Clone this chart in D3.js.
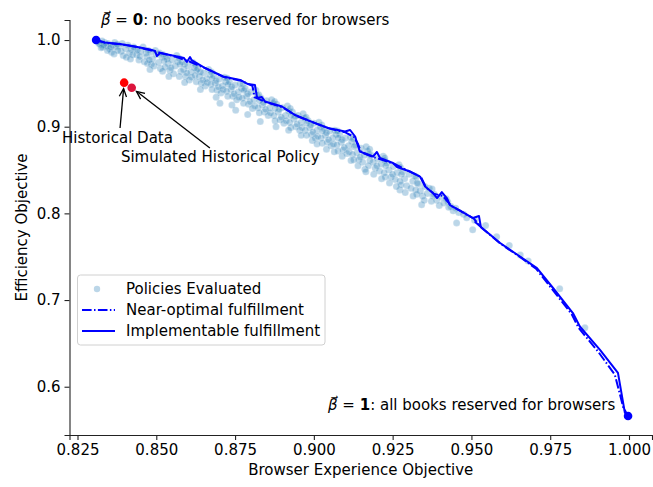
<!DOCTYPE html>
<html lang="en">
<head>
  <meta charset="UTF-8">
  <title>Browser experience vs efficiency</title>
  <script src="https://d3js.org/d3.v7.min.js"></script>
  <style>
    body { margin: 0; background: #fff; }
    svg { display: block; }
    text { font-family: "DejaVu Sans", sans-serif; fill: #000; }
    .domain, .tick line { stroke: #222; stroke-width: 1.1px; }
  </style>
</head>
<body>
  <svg width="653" height="487"></svg>

  <script>
    const width = 653, height = 487;
    const fs = 15; // font size used everywhere

    // policies evaluated (browser experience, efficiency)
    const policies = [
      [0.8315,0.998],[0.8322,0.995],[0.8330,0.992],[0.8336,0.997],[0.8328,0.999],[0.8341,0.993],
      [0.8347,0.996],[0.8352,0.990],[0.8358,0.986],[0.8362,0.994],[0.8345,0.988],[0.8368,0.997],[0.8355,0.992],
      [0.8382,0.993],[0.8388,0.987],[0.8395,0.982],[0.8402,0.990],[0.8410,0.994],[0.8415,0.985],[0.8405,0.980],[0.8392,0.996],
      [0.8432,0.990],[0.8438,0.983],[0.8445,0.977],[0.8450,0.987],[0.8458,0.992],[0.8462,0.975],[0.8448,0.981],[0.8440,0.988],[0.8467,0.985],
      [0.8482,0.986],[0.8488,0.978],[0.8493,0.970],[0.8500,0.983],[0.8507,0.974],[0.8513,0.967],[0.8518,0.980],[0.8497,0.988],[0.8510,0.985],[0.8485,0.972],
      [0.8532,0.981],[0.8538,0.973],[0.8543,0.965],[0.8550,0.977],[0.8555,0.961],[0.8560,0.970],[0.8565,0.982],[0.8547,0.968],[0.8568,0.975],[0.8535,0.978],
      [0.8582,0.975],[0.8587,0.966],[0.8593,0.958],[0.8600,0.970],[0.8605,0.954],[0.8610,0.963],[0.8616,0.974],[0.8597,0.962],[0.8620,0.968],[0.8590,0.972],[0.8612,0.957],
      [0.8632,0.967],[0.8637,0.958],[0.8643,0.950],[0.8650,0.962],[0.8655,0.947],[0.8660,0.955],[0.8666,0.966],[0.8647,0.954],[0.8670,0.960],[0.8640,0.963],[0.8662,0.951],
      [0.8682,0.959],[0.8687,0.950],[0.8693,0.942],[0.8700,0.955],[0.8705,0.939],[0.8710,0.947],[0.8716,0.957],[0.8697,0.946],[0.8720,0.952],[0.8690,0.953],[0.8712,0.943],[0.8702,0.927],
      [0.8732,0.952],[0.8737,0.943],[0.8743,0.935],[0.8750,0.948],[0.8755,0.931],[0.8760,0.940],[0.8766,0.950],[0.8747,0.938],[0.8770,0.944],[0.8740,0.946],[0.8762,0.934],[0.8752,0.919],
      [0.8782,0.944],[0.8787,0.935],[0.8793,0.926],[0.8800,0.940],[0.8805,0.921],[0.8810,0.931],[0.8816,0.942],[0.8797,0.929],[0.8820,0.936],[0.8790,0.938],[0.8812,0.924],
      [0.8832,0.933],[0.8837,0.925],[0.8843,0.917],[0.8850,0.930],[0.8855,0.913],[0.8860,0.922],[0.8866,0.931],[0.8847,0.920],[0.8870,0.927],[0.8840,0.928],[0.8862,0.916],
      [0.8882,0.926],[0.8887,0.917],[0.8893,0.908],[0.8900,0.922],[0.8905,0.904],[0.8910,0.913],[0.8916,0.924],[0.8897,0.911],[0.8920,0.918],[0.8890,0.920],[0.8912,0.907],
      [0.8932,0.917],[0.8937,0.909],[0.8943,0.900],[0.8950,0.913],[0.8955,0.896],[0.8960,0.905],[0.8966,0.915],[0.8947,0.903],[0.8970,0.910],[0.8940,0.912],[0.8962,0.899],
      [0.8982,0.907],[0.8987,0.899],[0.8993,0.891],[0.9000,0.904],[0.9005,0.887],[0.9010,0.896],[0.9016,0.905],[0.8997,0.894],[0.9020,0.900],[0.8990,0.902],[0.9012,0.889],
      [0.9032,0.898],[0.9037,0.890],[0.9043,0.882],[0.9050,0.895],[0.9055,0.878],[0.9060,0.887],[0.9066,0.896],[0.9047,0.885],[0.9070,0.891],[0.9040,0.893],[0.9062,0.880],
      [0.9082,0.891],[0.9087,0.882],[0.9093,0.873],[0.9100,0.887],[0.9105,0.869],[0.9110,0.878],[0.9116,0.888],[0.9097,0.876],[0.9120,0.883],[0.9090,0.885],[0.9112,0.871],
      [0.9132,0.879],[0.9137,0.870],[0.9143,0.862],[0.9150,0.875],[0.9155,0.859],[0.9160,0.867],[0.9166,0.877],[0.9147,0.865],[0.9170,0.872],[0.9162,0.851],
      [0.9182,0.867],[0.9188,0.859],[0.9195,0.852],[0.9202,0.863],[0.9208,0.849],[0.9214,0.857],[0.9220,0.866],[0.9200,0.855],[0.9225,0.861],
      [0.9232,0.858],[0.9238,0.850],[0.9245,0.842],[0.9252,0.854],[0.9258,0.839],[0.9264,0.847],[0.9270,0.856],[0.9273,0.827],[0.9250,0.845],
      [0.9282,0.848],[0.9288,0.840],[0.9295,0.832],[0.9302,0.845],[0.9308,0.829],[0.9314,0.837],[0.9320,0.843],
      [0.9332,0.834],[0.9338,0.826],[0.9345,0.820],[0.9352,0.831],[0.9342,0.810],[0.9360,0.823],[0.9366,0.829],
      [0.9382,0.822],[0.9390,0.815],[0.9398,0.809],[0.9405,0.819],[0.9412,0.812],[0.9420,0.817],
      [0.9435,0.808],[0.9442,0.803],[0.9450,0.806],[0.9453,0.789],[0.9460,0.801],
      [0.9475,0.799],[0.9485,0.795],[0.9504,0.781],[0.9510,0.792],
      [0.9545,0.786],[0.9580,0.773],[0.9620,0.763],[0.9655,0.752],[0.9680,0.745],[0.9780,0.713],[0.9860,0.668],
      [0.8318,0.996],[0.8333,0.994],[0.8325,0.991],
      [0.8372,0.992],[0.8378,0.988],[0.8366,0.984],[0.8376,0.995],
      [0.8420,0.989],[0.8425,0.983],[0.8418,0.978],[0.8428,0.992],
      [0.8470,0.981],[0.8474,0.988],[0.8472,0.973],[0.8478,0.977],
      [0.8522,0.983],[0.8525,0.976],[0.8528,0.969],[0.8520,0.964],
      [0.8572,0.979],[0.8575,0.972],[0.8578,0.964],[0.8573,0.958],
      [0.8625,0.971],[0.8628,0.965],[0.8623,0.959],[0.8627,0.952],
      [0.8675,0.963],[0.8678,0.956],[0.8673,0.949],[0.8677,0.943],
      [0.8725,0.956],[0.8728,0.949],[0.8723,0.941],[0.8727,0.935],
      [0.8775,0.949],[0.8778,0.942],[0.8773,0.933],[0.8777,0.927],
      [0.8825,0.937],[0.8828,0.930],[0.8823,0.922],[0.8827,0.916],
      [0.8875,0.929],[0.8878,0.921],[0.8873,0.913],[0.8877,0.907],
      [0.8925,0.921],[0.8928,0.913],[0.8923,0.905],[0.8927,0.899],
      [0.8975,0.911],[0.8978,0.904],[0.8973,0.896],[0.8977,0.890],
      [0.9025,0.902],[0.9028,0.895],[0.9023,0.887],[0.9027,0.881],
      [0.9075,0.895],[0.9078,0.887],[0.9073,0.879],[0.9077,0.872],
      [0.9125,0.886],[0.9128,0.877],[0.9123,0.868],[0.9127,0.862],
      [0.9175,0.868],[0.9178,0.861],[0.9173,0.855],[0.9177,0.874],
      [0.9225,0.864],[0.9228,0.855],[0.9223,0.847],[0.9227,0.842],
      [0.9275,0.853],[0.9278,0.845],[0.9273,0.837],[0.9277,0.833],
      [0.9325,0.842],[0.9328,0.835],[0.9323,0.827],[0.9327,0.822],
      [0.9375,0.828],[0.9378,0.820],[0.9373,0.814],
      [0.9425,0.813],[0.9428,0.807],
      [0.8480,0.966],[0.8540,0.958],[0.8590,0.951],[0.8640,0.943],[0.8690,0.934],[0.8740,0.925],
      [0.8790,0.914],[0.8830,0.906],[0.8880,0.900],[0.8920,0.896],[0.8960,0.890],[0.8995,0.884],
      [0.9010,0.880],[0.9040,0.874],[0.9065,0.871],[0.9090,0.866],[0.9118,0.861],[0.9140,0.855],
      [0.9165,0.848],[0.9190,0.845],[0.9215,0.840],[0.9240,0.835],[0.9262,0.831],[0.9290,0.824],
      [0.9315,0.820],[0.9350,0.815]
    ];

    // near-optimal fulfillment frontier (dash-dot)
    const nearOptimal = [
      [0.8309,1.000],[0.8340,0.9965],[0.8390,0.9950],[0.8440,0.9918],[0.8485,0.9880],[0.8560,0.9808],
      [0.8600,0.9760],[0.8660,0.9668],[0.8715,0.9572],[0.8770,0.9530],[0.8805,0.9470],[0.8812,0.9340],
      [0.8850,0.9280],[0.8900,0.9225],[0.8945,0.9125],[0.9008,0.9035],[0.9050,0.8978],[0.9100,0.8935],
      [0.9128,0.8880],[0.9140,0.8800],[0.9150,0.8705],[0.9190,0.8648],[0.9255,0.8572],[0.9308,0.8475],
      [0.9340,0.8418],[0.9356,0.8300],[0.9380,0.8228],[0.9410,0.8200],[0.9435,0.8088],[0.9466,0.8025],
      [0.9508,0.7938],[0.9532,0.7835],[0.9592,0.7650],[0.9655,0.7495],[0.9705,0.7362],[0.9755,0.7130],
      [0.9818,0.6838],[0.9840,0.6680],[0.9902,0.6405],[0.9955,0.6140],[0.9982,0.5760],[0.9997,0.5663]
    ];

    // implementable fulfillment frontier (solid)
    const implementable = [
      [0.8309,1.000],[0.8337,0.9971],[0.8385,0.9954],[0.8432,0.9925],[0.8480,0.9890],[0.8496,0.9873],
      [0.8502,0.9815],[0.8512,0.9850],[0.8559,0.9815],[0.8588,0.9792],[0.8597,0.9746],[0.8607,0.9804],
      [0.8612,0.9769],[0.8655,0.9677],[0.8712,0.9579],[0.8766,0.9539],[0.8791,0.9492],[0.8813,0.9481],
      [0.8820,0.9331],[0.8835,0.9342],[0.8845,0.9290],[0.8899,0.9233],[0.8940,0.9135],[0.9004,0.9042],
      [0.9045,0.8985],[0.9099,0.8944],[0.9115,0.8962],[0.9131,0.8887],[0.9137,0.8812],[0.9146,0.8714],
      [0.9188,0.8656],[0.9200,0.8708],[0.9210,0.8639],[0.9251,0.8581],[0.9264,0.8535],[0.9305,0.8483],
      [0.9337,0.8425],[0.9353,0.8310],[0.9378,0.8235],[0.9391,0.8177],[0.9406,0.8246],[0.9422,0.8177],
      [0.9432,0.8096],[0.9464,0.8033],[0.9505,0.7946],[0.9524,0.7969],[0.9530,0.7843],[0.9512,0.7900],
      [0.9530,0.7843],[0.9591,0.7658],[0.9654,0.7502],[0.9708,0.7369],[0.9759,0.7139],[0.9822,0.6850],
      [0.9844,0.6695],[0.9908,0.6424],[0.9965,0.6159],[0.9987,0.5698],[0.9997,0.5663]
    ];

    // extreme policies (beta = 0 and beta = 1)
    const endpoints = [[0.8309, 1.000], [0.9997, 0.5663]];

    // historical points
    const historical = [
      { name: "Historical Data", x: 0.8398, y: 0.9508, color: "#ff0000", tx: 0.8377, ty: 0.8869, ax: 0.8385, ay: 0.8985 },
      { name: "Simulated Historical Policy", x: 0.8422, y: 0.9450, color: "#dc143c", tx: 0.8703, ty: 0.8650, ax: 0.8670, ay: 0.8754 }
    ];

    const xTicks = [0.825, 0.850, 0.875, 0.900, 0.925, 0.950, 0.975, 1.000];
    const yTicks = [0.6, 0.7, 0.8, 0.9, 1.0];

    const svg = d3.select("svg");

    const x = d3.scaleLinear().domain([0.82246, 1.0073]).range([69.5, 652]);
    const y = d3.scaleLinear().domain([0.5443, 1.0231]).range([435, 20]);

    // axes (left and bottom spines only)
    svg.append("g")
      .attr("transform", "translate(0,435)")
      .call(d3.axisBottom(x).tickValues(xTicks).tickFormat(d3.format(".3f")).tickSizeOuter(0).tickSize(5).tickPadding(4))
      .call(g => g.selectAll("text").attr("font-size", fs).attr("font-family", "DejaVu Sans"));

    svg.append("g")
      .attr("transform", "translate(69.5,0)")
      .call(d3.axisLeft(y).tickValues(yTicks).tickFormat(d3.format(".1f")).tickSizeOuter(0).tickSize(5).tickPadding(4))
      .call(g => g.selectAll("text").attr("font-size", fs).attr("font-family", "DejaVu Sans"));

    svg.append("text")
      .attr("x", (69.5 + 652) / 2).attr("y", 475)
      .attr("text-anchor", "middle").attr("font-size", fs)
      .text("Browser Experience Objective");

    svg.append("text")
      .attr("transform", "translate(27," + ((20 + 435) / 2) + ") rotate(-90)")
      .attr("text-anchor", "middle").attr("font-size", fs)
      .text("Efficiency Objective");

    // scatter of evaluated policies
    svg.append("g")
      .selectAll("circle")
      .data(policies)
      .join("circle")
      .attr("cx", d => x(d[0]))
      .attr("cy", d => y(d[1]))
      .attr("r", 3.5)
      .attr("fill", "#1f77b4")
      .attr("fill-opacity", 0.3)
      .attr("stroke", "#fff")
      .attr("stroke-opacity", 0.35)
      .attr("stroke-width", 0.6);

    const line = d3.line().x(d => x(d[0])).y(d => y(d[1]));

    svg.append("path")
      .datum(nearOptimal)
      .attr("d", line)
      .attr("fill", "none")
      .attr("stroke", "#0000ff")
      .attr("stroke-width", 2)
      .attr("stroke-dasharray", "9.6,2.4,1.5,2.4");

    svg.append("path")
      .datum(implementable)
      .attr("d", line)
      .attr("fill", "none")
      .attr("stroke", "#0000ff")
      .attr("stroke-width", 2)
      .attr("stroke-linejoin", "round");

    svg.append("g")
      .selectAll("circle")
      .data(endpoints)
      .join("circle")
      .attr("cx", d => x(d[0]))
      .attr("cy", d => y(d[1]))
      .attr("r", 4.3)
      .attr("fill", "#0000ff");

    // historical points
    svg.append("g")
      .selectAll("circle")
      .data(historical)
      .join("circle")
      .attr("cx", d => x(d.x))
      .attr("cy", d => y(d.y))
      .attr("r", 4.3)
      .attr("fill", d => d.color);

    // annotation arrows ("->" style)
    historical.forEach(d => {
      const x0 = x(d.ax), y0 = y(d.ay);
      const px = x(d.x), py = y(d.y);
      const len = Math.hypot(px - x0, py - y0);
      const ux = (px - x0) / len, uy = (py - y0) / len;
      const hx = px - ux * 6, hy = py - uy * 6;
      svg.append("line")
        .attr("x1", x0).attr("y1", y0).attr("x2", hx).attr("y2", hy)
        .attr("stroke", "#000").attr("stroke-width", 1.3);
      const hl = 8, hw = 3.6;
      const bx = hx - ux * hl, by = hy - uy * hl;
      svg.append("path")
        .attr("d", `M${bx - uy * hw},${by + ux * hw}L${hx},${hy}L${bx + uy * hw},${by - ux * hw}`)
        .attr("fill", "none").attr("stroke", "#000").attr("stroke-width", 1.3);
      svg.append("text")
        .attr("x", x(d.tx)).attr("y", y(d.ty))
        .attr("dy", "0.35em")
        .attr("text-anchor", "middle").attr("font-size", fs)
        .text(d.name);
    });

    // beta annotations, vector arrow via the combining arrow above (U+20D7)
    function betaLabel(px, py, val, rest) {
      const t = svg.append("text")
        .attr("x", px).attr("y", py).attr("font-size", fs);
      t.append("tspan").attr("font-style", "italic").text("β\u20D7");
      t.append("tspan").text(" = ");
      t.append("tspan").attr("font-weight", "bold").text(val);
      t.append("tspan").text(rest);
    }
    betaLabel(101, 25, "0", ": no books reserved for browsers");
    betaLabel(328, 410, "1", ": all books reserved for browsers");

    // legend
    const lg = svg.append("g");
    lg.append("rect")
      .attr("x", 77.5).attr("y", 275).attr("width", 247.5).attr("height", 70)
      .attr("rx", 3).attr("fill", "#fff").attr("fill-opacity", 0.8)
      .attr("stroke", "#d0d0d0").attr("stroke-width", 1);
    lg.append("circle")
      .attr("cx", 97).attr("cy", 289).attr("r", 3.2)
      .attr("fill", "#1f77b4").attr("fill-opacity", 0.3);
    lg.append("line")
      .attr("x1", 82).attr("x2", 115).attr("y1", 310).attr("y2", 310)
      .attr("stroke", "#0000ff").attr("stroke-width", 2)
      .attr("stroke-dasharray", "9.6,2.4,1.5,2.4");
    lg.append("line")
      .attr("x1", 82).attr("x2", 115).attr("y1", 331).attr("y2", 331)
      .attr("stroke", "#0000ff").attr("stroke-width", 2);
    const labels = ["Policies Evaluated", "Near-optimal fulfillment", "Implementable fulfillment"];
    lg.selectAll("text.leg")
      .data(labels)
      .join("text")
      .attr("class", "leg")
      .attr("x", 126)
      .attr("y", (d, i) => 289 + i * 21)
      .attr("dy", "0.35em")
      .attr("font-size", fs)
      .text(d => d);
  </script>
</body>
</html>
